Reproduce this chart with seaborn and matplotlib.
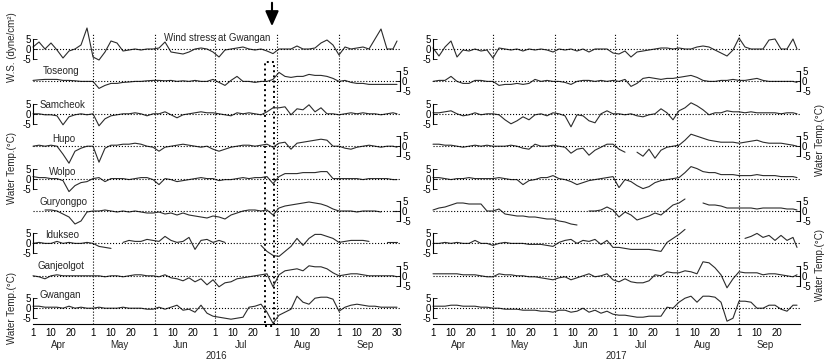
import numpy as np
import pandas as pd
import matplotlib
matplotlib.use('Agg')
import matplotlib.pyplot as plt
import matplotlib.transforms as mtransforms
from matplotlib.patches import Rectangle
import seaborn as sns

sns.set_style('white')
plt.rcParams['font.family'] = ['Liberation Sans', 'DejaVu Sans']
plt.rcParams['axes.unicode_minus'] = False

nan = np.nan

# day index from 1 April (0) to 30 September (182), every 3 days
days = list(range(0, 181, 3)) + [182]

month_starts = [0, 30, 61, 91, 122, 153]
month_names = ['Apr', 'May', 'Jun', 'Jul', 'Aug', 'Sep']

row_names = ['Wind stress at Gwangan', 'Toseong', 'Samcheok', 'Hupo', 'Wolpo',
             'Guryongpo', 'Idukseo', 'Ganjeolgot', 'Gwangan']

# ---- 2016 ----
ws_2016 = [1, 3.5, 0, 3, -0.5, -4.5, -1, 0, 2, 10.5,
           -4, -5.5, -1.5, 4, 3, -1, -0.5, 0, -0.5, 0,
           0, 0.5, 3.5, -1.5, -2, -2.5, -1.5, 0, 0.5, 0,
           -1.5, -4, -0.5, 0, 0.5, 1, 0, -0.5, 0, -1,
           -2.3, 0, 0, 0, 1.5, 0, 0, 0.5, 3, 4.5,
           2, -3, 1, 0, 0.5, 1, 0, 5, 10, 0,
           0, 4]
toseong_2016 = [0.5, 0.8, 1, 1, 1, 0.5, 0.5, 0.3, 0, 0,
                0, -3.5, -2, -1, -1, -0.5, -0.3, 0, 0, 0.3,
                0.5, 0.5, 0.3, 0.5, 0, 0.3, 0, 0.5, 0, 0,
                1, -0.5, -2, 0.5, 2.5, 0, 0, -0.5, 0, 0,
                1, 4.5, 2.5, 2, 2.5, 2.5, 3.5, 3, 3, 2.5,
                1.5, 0, 0.5, -0.5, -1, -1, -1.5, -1.5, -1.5, -1.5,
                -1.5, -1.5]
samcheok_2016 = [0, 0, -0.5, -0.5, -1, -5.5, -1.5, -0.5, 0, -0.5,
                 0, -6, -2.5, -1, -0.5, 0, 0, 0.5, 0, -1,
                 0, 0, 1, -0.5, -2, -0.5, 0, 0.5, 1, 0.5,
                 0.5, 0, -0.5, -1, 0.5, 0, 0.5, 0, -0.5, 1,
                 3, 3, 3.5, -0.5, 2.5, 2, 4.5, 1, 3, 0,
                 0, -0.5, 0, 0.5, 0, 0.5, 0, 0, -0.5, 0,
                 0.5, 0]
hupo_2016 = [0, 0.5, 0, 0.5, 0, -4, -8.5, -2.5, -1, 0,
             0, -8, -1, 0.5, 0.5, 1, 1, 1.5, 1, 0,
             -0.5, -2.5, -0.5, 0, 0.5, 1, 0.5, 0, -0.5, 0,
             -1.5, -2.5, -1.5, -0.5, 0, 0.5, 0.5, 0, 0.5, 1,
             -0.5, 1.5, 2, -1.5, 1.5, 2, 2.5, 3, 3.5, 3,
             0, 0, -1, -1.5, -0.5, 0, 0.5, 0, -0.5, 0,
             0, -0.5]
wolpo_2016 = [1, 0.5, 0.5, 0, 0, -1, -6.5, -3.5, -2, -1.5,
              0, 0.5, -1.5, 0, 0, 0, -0.5, 0, 0.5, 0.5,
              -0.5, -3, 0, -0.5, -1.5, -1, -0.5, 0, 0.5, 0,
              0, -1, -0.5, -0.5, 0, 0.5, 0, 0.5, 0.5, 1,
              -2.5, 1, 2.5, 2.5, 2.5, 3, 3, 3, 3.5, 3.5,
              0, 0, 0, 0, 0, -0.5, 0, 0, 0, 0,
              -0.5, -0.5]
guryongpo_2016 = [nan, nan, 0.5, 0.5, 0, -1.5, -3, -6.5, -5, -0.5,
                  0, 0, 0.5, 0, -0.5, 0, -0.5, 0, -0.5, -1,
                  -1, -0.5, -1.5, -1, -2, -1, -2, -2.5, -3, -3.5,
                  -2.5, -3, -4, -2, -1, 0, 0.5, 0.5, 0, 0.5,
                  -2, 1.5, 2.5, 3, 3.5, 4, 4.5, 4, 3.5, 2.5,
                  1, 0, 0, 0, -0.5, 0, 0, 0, -0.5, nan,
                  0, 0]
idukseo_2016 = [0, 0.5, 0, 0, 1, 0, 0.5, 0, 0, 0.5,
                0, -1.5, -2, -2.5, nan, 0.5, 1.5, 1, 1, 2,
                1.5, 1, 3.5, 1.5, 0.5, 1, 3, -3, 1.5, 2,
                0.5, 1.5, 0.5, nan, nan, nan, nan, nan, -1, -4,
                -6, -6.5, -4, -1.5, 2.5, -1, 2.5, 4.5, 4.5, 3.5,
                2.5, 0.5, 1, 1.5, 1.5, 1.5, 1, nan, nan, 0.5,
                0.5, 0.5]
ganjeolgot_2016 = [0, -0.5, -1.5, 0, 0.5, 0, 0, 0, 0, 0,
                   0, 0, -0.5, 0, 0, -0.5, 0, 0.5, 0.5, 0,
                   0, -0.5, 0.5, -1, -1.5, -2.5, -1, -3, -1.5, -4.5,
                   -2, -5.5, -3.5, -3, -1.5, -1, -0.5, 0, 0.5, 1,
                   -5.5, 0.5, 2.5, 3, 3.5, 2.5, 5, 4.5, 4.5, 3.5,
                   1.5, 0, 0.5, 1, 1, 0.5, 0, 0, 0, 0,
                   0, -0.5]
gwangan_2016 = [1, 1, 0.5, 0.5, 0.5, 0, 1, 0, 0.5, 0,
                0, 0.5, 0, 0, 0, 0.5, 0, 0, 0, -0.5,
                -0.5, 0.5, -0.5, 0.5, 1.5, -1, -0.5, -2, 1.5, -2.5,
                -4, -4.5, -5, -5.5, -5, -4.5, 0.5, 1, 2, -2,
                -7.5, -3.5, -2, -0.5, 6, 3, 2, 5, 5.5, 5.5,
                4.5, -1.5, 0.5, 1.5, 2, 1.5, 1, 1, 0.5, 0.5,
                0.5, 0.5]

# ---- 2017 ----
ws_2017 = [0.5, -3.5, 1, 4, -4, -0.5, -1, 0, -1, -0.5,
           -4.5, 0.5, 0, -0.5, 0, -1, 0, -0.5, 0, -0.5,
           -1.5, 0, -0.5, 0, -1, 0, -1.5, 0, 0, 0,
           -2, -2.5, -1, -4, -1.5, -1, -0.5, 0, 0.5, 0.5,
           0, 0.5, 0, 0, 1, 1.5, 1, -0.5, -2, -3.5,
           -0.5, 5.5, 1, 0, 0, 0, 4.5, 5, 0, 0,
           5, 0]
toseong_2017 = [0, 0.5, 0.5, 2.5, 0, -1, -1, 0.5, 0.5, 0,
                0, -2, -1.5, -1.5, -1, -1.5, -1, 1, 0, 0.5,
                0, 0, -0.5, -1.5, 0, 0.5, 0.5, 0, 0.5, 0,
                0.5, 0, 1, -2.5, -1, 1.5, 2, 1.5, 1, 1.5,
                1.5, 2, 2.5, 3, 2, 0.5, 0, 0, 0.5, 0.5,
                1, 0.5, 0.5, 1, 1.5, 0.5, 0, 0, 0, 0,
                0, -0.5]
samcheok_2017 = [0.5, 0.5, 1, 1.5, 0, -1, -0.5, 0.5, -0.5, 0,
                 0, -0.5, -3, -5, -3.5, -1.5, -3, -0.5, 0, -1,
                 0.5, 0, -1, -6.5, -0.5, -1, -3.5, -4.5, 0, 1.5,
                 0, 0, -0.5, 0, -1, -1.5, -0.5, 0, 2.5, 0.5,
                 -3, 1.5, 3, 5.5, 4, 2, -0.5, 0.5, 0.5, 1.5,
                 1, 1, 0.5, 1, 0.5, 0.5, 0.5, 0.5, 0, 0.5,
                 0.5, 0]
hupo_2017 = [1, 1, 0.5, 0.5, 0, -0.5, 0, 0.5, 0, 0.5,
             0, 0, 0, 0.5, 0, -1, -1.5, 1, 0, 0,
             0.5, 0, -0.5, -3.5, -1.5, -1, -4.5, -2, -0.5, 1,
             1, -1.5, -3, nan, -3, -5, -1.5, -6, -2, -0.5,
             0, 0.5, 3, 6, 5, 4, 3, 2.5, 2, 2,
             2, 1.5, 2, 2.5, 3, 2, 1.5, 1.5, 1.5, 1,
             0.5, 0]
wolpo_2017 = [0.5, 0.5, 0, -0.5, 0, 0, 0.5, 0, 0, 0,
              0, 0.5, 0, -0.5, -0.5, -3, -1, -0.5, 0.5, 0.5,
              1.5, 0, -0.5, -1.5, -3, -2, -1, -0.5, 0, 0.5,
              1, -4.5, -0.5, -1.5, -3.5, -5, -4, -2, -1, -0.5,
              0, 0.5, 3, 6, 5, 3.5, 3, 3, 2, 2,
              2, 1.5, 1.5, 1.5, 2, 1.5, 1.5, 1.5, 1, 1,
              1, 0.5]
guryongpo_2017 = [0.5, 1.5, 2, 3, 4, 4, 3.5, 3.5, 3.5, 0,
                  0, 1, -1.5, -2, -2.5, -2.5, -3, -3, -3.5, -4,
                  -4, -5, -5.5, -6.5, -7, nan, 0, 0, 0.5, 2,
                  0.5, -3, -0.5, -2, -4.5, -3.5, -2.5, -1, -2, 0.5,
                  3, 4, 6, nan, nan, 4, 3, 3, 2.5, 1.5,
                  1.5, 1.5, 1.5, 1.5, 1, 1.5, 1.5, 1.5, 1.5, 1,
                  1, 0.5]
idukseo_2017 = [0, 0, 0.5, 0, 0.5, 0, 0, 1.5, 0, 0,
                -1, 0, 0.5, 0, 0, 0, -0.5, -0.5, -0.5, -1,
                -1.5, 0.5, 1.5, 2, 0, 1.5, 1, 2, -0.5, 1.5,
                -2, -2, -2.5, -3, -3, -3, -3, -3.5, -4, 0.5,
                2.5, 4.5, 7, nan, nan, nan, nan, nan, nan, nan,
                nan, nan, 2.5, 3.5, 5, 3, 4, 1.5, 4, 1.5,
                3, -2]
ganjeolgot_2017 = [1, 1, 1, 1, 1, 0.5, 0.5, 0.5, 0, -0.5,
                   -0.5, 1, 0.5, 0.5, 0, 0, -0.5, -0.5, -1, -1.5,
                   -2, -1, -0.5, -2, -1, 0, 1, -0.5, 0, 1,
                   -2, -3, -1.5, -3, -3.5, -3.5, -2.5, 0.5, 0, 2,
                   1.5, 1.5, 2.5, 2, 1, 7, 6.5, 4, 0.5, -6,
                   -1.5, 2, 1.5, 1.5, 1.5, 0.5, 1, 1, 0.5, 0,
                   -0.5, 0.5]
gwangan_2017 = [1, 1, 1, 1.5, 1.5, 1, 1, 1, 0.5, 0.5,
                0, 0, -0.5, -0.5, -0.5, -1, -1, -1, -1.5, -1.5,
                -2, -1, -1, -2, -1.5, 0, -2, -1, -2.5, -1.5,
                -3, -3.5, -3.5, -4, -4.5, -4.5, -4, -4, -4, 0.5,
                0, 3, 5, 6, 3, 6, 6, 5.5, 3, -6.5,
                -5, 3.5, 3.5, 3, 0, 0, 1.5, 1.5, -0.5, -1.5,
                1.5, 1.5]

series_2016 = [ws_2016, toseong_2016, samcheok_2016, hupo_2016, wolpo_2016,
               guryongpo_2016, idukseo_2016, ganjeolgot_2016, gwangan_2016]
series_2017 = [ws_2017, toseong_2017, samcheok_2017, hupo_2017, wolpo_2017,
               guryongpo_2017, idukseo_2017, ganjeolgot_2017, gwangan_2017]

# where the station names sit (day, value) in each row
name_pos = [(65.5, 5.5), (5, 5.2), (3.5, 4.4), (9.5, 3.5), (8, 3.3),
            (3.5, 4.5), (6, 4.2), (2.5, 4.9), (3.5, 6.5)]

W_PX, H_PX = 827, 359
fig = plt.figure(figsize=(W_PX / 100, H_PX / 100), dpi=100)

top_px, bot_px = 32.8, 324.4
B = (H_PX - bot_px) / H_PX
H = (bot_px - top_px) / H_PX
PW = 367 / W_PX
XMAX = 183.5
line_col = '#2b2b2b'


def draw_panel(left_px, year, series, show_names, last_tick):
    left = left_px / W_PX
    bg = fig.add_axes([left, B, PW, H])
    bg.set_xlim(0, XMAX)
    bg.set_ylim(0, 1)
    for s in ['top', 'left', 'right']:
        bg.spines[s].set_visible(False)
    bg.spines['bottom'].set_linewidth(0.8)
    bg.spines['bottom'].set_color('k')
    bg.set_yticks([])
    for m in month_starts[1:]:
        bg.axvline(m, color='k', ls=':', lw=0.8)
    ticks = [m + k for m in month_starts for k in (0, 9, 19)]
    labels = [str(k + 1) for m in month_starts for k in (0, 9, 19)]
    if last_tick:
        ticks.append(182)
        labels.append('30')
    bg.set_xticks(ticks, labels)
    bg.tick_params(axis='x', direction='in', length=3, width=0.6,
                   labelsize=7, pad=2.5, colors='k')
    for m, name in zip(month_starts, month_names):
        bg.annotate(name, xy=(m + 13, 0), xycoords=('data', 'axes fraction'),
                    xytext=(0, -15), textcoords='offset points',
                    ha='center', va='center', fontsize=7)
    bg.annotate(year, xy=(0.5, 0), xycoords='axes fraction',
                xytext=(0, -22.5), textcoords='offset points',
                ha='center', va='center', fontsize=7)

    for i, vals in enumerate(series):
        ax = fig.add_axes([left, B + H * (8 - i) / 9, PW, H / 9])
        ax.set_facecolor('none')
        df = pd.DataFrame({'day': days, 'val': vals})
        df['seg'] = df['val'].isna().cumsum()
        df = df.dropna()
        sns.lineplot(data=df, x='day', y='val', units='seg', estimator=None,
                     color=line_col, lw=0.8, ax=ax, legend=False)
        for ln in ax.lines:
            ln.set_clip_on(False)
        ax.axhline(0, color='k', ls=':', lw=0.8)
        ax.set_xlim(0, XMAX)
        ax.set_ylim(-8.1, 8.1)
        ax.set_xlabel('')
        ax.set_ylabel('')
        ax.set_xticks([])
        ax.set_yticks([-5, 0, 5], ['-5', '0', '5'])
        side = 'left' if i % 2 == 0 else 'right'
        other = 'right' if side == 'left' else 'left'
        for s in ['top', 'bottom', other]:
            ax.spines[s].set_visible(False)
        ax.spines[side].set_bounds(-5, 5)
        ax.spines[side].set_linewidth(0.8)
        ax.spines[side].set_color('k')
        if side == 'left':
            ax.yaxis.tick_left()
        else:
            ax.yaxis.tick_right()
        ax.tick_params(axis='y', direction='in', length=3, width=0.6,
                       labelsize=7, pad=1.5, colors='k')
        if show_names:
            x, y = name_pos[i]
            ax.text(x, y, row_names[i], fontsize=7, va='center', ha='left')
    return bg


bg16 = draw_panel(33, '2016', series_2016, True, True)
bg17 = draw_panel(433, '2017', series_2017, False, False)

# event box and arrow in 2016
trans = mtransforms.blended_transform_factory(bg16.transData, bg16.transAxes)
bg16.add_patch(Rectangle((116, -0.005), 4.5, 0.905, transform=trans,
                         fill=False, ls=':', lw=1.4, ec='k', clip_on=False))
bg16.annotate('', xy=(119.5, 1 - 29 / H_PX), xycoords=('data', 'figure fraction'),
              xytext=(119.5, 1.0), textcoords=('data', 'figure fraction'),
              arrowprops=dict(arrowstyle='-|>,head_length=0.9,head_width=0.4',
                              lw=1.5, color='k'),
              annotation_clip=False)

# axis titles
fig.text(12 / W_PX, 1 - 47 / H_PX, 'W.S. (dyne/cm²)', rotation=90,
         ha='center', va='center', fontsize=7)
for yc in (168, 308):
    fig.text(12 / W_PX, 1 - yc / H_PX, 'Water Temp.(°C)', rotation=90,
             ha='center', va='center', fontsize=7)
for yc in (140, 265):
    fig.text(820 / W_PX, 1 - yc / H_PX, 'Water Temp.(°C)', rotation=90,
             ha='center', va='center', fontsize=7)

fig.savefig('out.png', dpi=100)
